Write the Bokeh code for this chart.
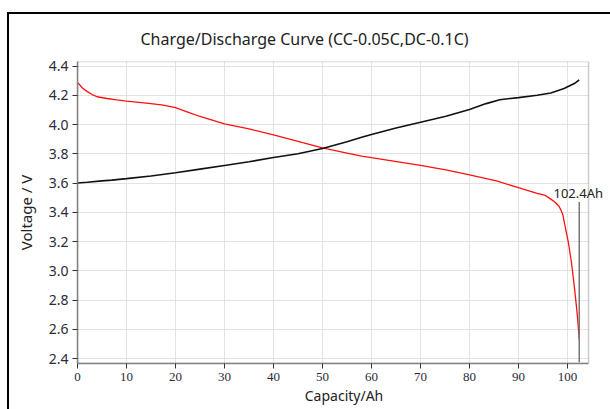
from bokeh.plotting import figure
from bokeh.models import Label, Range1d, FixedTicker, BoxAnnotation
from bokeh.embed import file_html
from bokeh.resources import INLINE

# ---- data ----
charge_x = [0, 2, 5, 7, 10, 15, 20, 25, 30, 35, 40, 45, 50, 55, 58, 60, 64.8, 70, 75.2, 80,
            83.4, 86.2, 90, 93.8, 96.6, 99.3, 101.4, 102.4]
charge_v = [3.60, 3.605, 3.615, 3.62, 3.63, 3.648, 3.67, 3.695, 3.72, 3.745, 3.775, 3.80, 3.836,
            3.882, 3.913, 3.932, 3.975, 4.016, 4.057, 4.103, 4.143, 4.17, 4.184, 4.20, 4.216,
            4.246, 4.28, 4.305]

discharge_x = [0, 0.5, 1, 2, 3, 4, 6, 8, 10, 12.5, 15, 17.5, 20, 22.5, 25, 27.5, 30, 35, 40,
               45, 50, 55, 58, 60, 64.8, 70, 75.2, 80, 85.5, 90, 93.8, 95.5, 96.6, 97.6, 98.3,
               99.0, 99.6, 100.2, 100.8, 101.2, 101.6, 102.0, 102.2, 102.4]
discharge_v = [4.285, 4.27, 4.25, 4.225, 4.205, 4.19, 4.178, 4.168, 4.16, 4.152, 4.143, 4.133,
               4.115, 4.085, 4.055, 4.03, 4.005, 3.97, 3.93, 3.885, 3.84, 3.805, 3.784, 3.773,
               3.748, 3.72, 3.69, 3.655, 3.614, 3.568, 3.53, 3.515, 3.49, 3.465, 3.44, 3.39,
               3.29, 3.19, 3.06, 2.95, 2.83, 2.70, 2.62, 2.53]

end_capacity = 102.4
end_line_v = [3.47, 2.375]
end_label = "102.4Ah"

x_ticks = [0, 10, 20, 30, 40, 50, 60, 70, 80, 90, 100]
y_ticks = [2.4, 2.6, 2.8, 3.0, 3.2, 3.4, 3.6, 3.8, 4.0, 4.2, 4.4]

title_text = "Charge/Discharge Curve  (CC-0.05C,DC-0.1C)"

X_MAX = 104.3          # right edge of the drawn plot box
X_VIEW = 108.78        # visible range (room for the end label)
Y_MIN, Y_MAX = 2.366, 4.431

W, H = 610, 409
p = figure(width=W, height=H, output_backend="svg", toolbar_location=None,
           x_range=Range1d(0, X_VIEW), y_range=Range1d(Y_MIN, Y_MAX),
           min_border_left=77, min_border_right=0, min_border_top=61,
           min_border_bottom=46, background_fill_color="white",
           border_fill_color=None)
# outer black frame (left and top edges) of the original screenshot
p.styles = {"box-shadow": "inset 7px 12px 0 0 white, inset 9px 14px 0 0 black"}

p.title.text = title_text
p.title.align = "left"
p.title.offset = 63
p.title.text_font = "Noto Sans"
p.title.text_font_size = "16px"
p.title.text_font_style = "normal"
p.title.text_color = "#222222"
p.title.vertical_align = "bottom"
p.title.standoff = 24

p.outline_line_color = None

p.xgrid.grid_line_color = "#e3e3e3"
p.ygrid.grid_line_color = "#e3e3e3"

p.xaxis.ticker = FixedTicker(ticks=x_ticks)
p.yaxis.ticker = FixedTicker(ticks=y_ticks)
p.yaxis.major_label_overrides = {t: f"{t:.1f}" for t in y_ticks}
p.xaxis.bounds = (0, X_MAX)

for ax in (p.xaxis, p.yaxis):
    ax.axis_line_color = "#888888"
    ax.axis_line_width = 1.5
    ax.major_tick_line_color = "#333333"
    ax.major_tick_out = 5
    ax.major_tick_in = 0
    ax.minor_tick_line_color = None
    ax.major_label_text_color = "#2a2a3a"
    ax.axis_label_text_font_style = "normal"
    ax.axis_label_text_color = "#222222"

p.xaxis.major_label_text_font = "Liberation Serif"
p.xaxis.major_label_text_font_size = "13px"
p.xaxis.major_label_standoff = 4
p.xaxis.axis_label = "Capacity/Ah"
p.xaxis.axis_label_text_font = "Noto Sans"
p.xaxis.axis_label_text_font_size = "14px"
p.xaxis.axis_label_standoff = 2

p.yaxis.major_label_text_font = "Noto Sans"
p.yaxis.major_label_text_font_size = "14px"
p.yaxis.major_label_standoff = 4
p.yaxis.axis_label = "Voltage / V"
p.yaxis.axis_label_text_font = "Noto Sans"
p.yaxis.axis_label_text_font_size = "15px"
p.yaxis.axis_label_standoff = 10

p.line(discharge_x, discharge_v, line_color="#ff1010", line_width=1.3)
p.line(charge_x, charge_v, line_color="#111111", line_width=1.6)
p.segment(x0=[end_capacity], y0=[end_line_v[0]], x1=[end_capacity], y1=[end_line_v[1]],
          line_color="#777777", line_width=1.5)

# blank out the area right of the plot box, then draw the box outline
p.add_layout(BoxAnnotation(left=X_MAX, fill_color="white", fill_alpha=1.0, line_alpha=0))
p.add_layout(BoxAnnotation(right=X_MAX, fill_alpha=0, line_color="#555555", line_width=1.5))

p.add_layout(Label(x=end_capacity - 0.2, y=end_line_v[0], text=end_label,
                   text_align="center", text_baseline="bottom",
                   text_font="Noto Sans", text_font_size="13px", text_color="#222222"))

open("out.html", "w").write(file_html(p, INLINE))
